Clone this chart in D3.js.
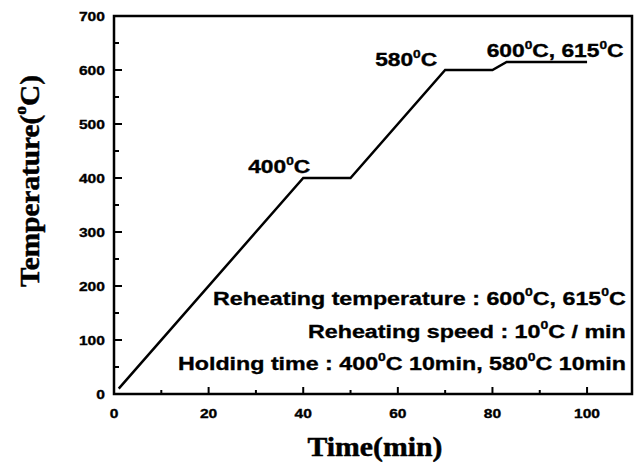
<!DOCTYPE html>
<html><head><meta charset="utf-8">
<script src="https://cdn.jsdelivr.net/npm/d3@7"></script>
<style>body{margin:0;background:#fff}svg{display:block}</style>
</head><body>
<svg id="c" width="638" height="464"></svg>
<script>
// Data
const timeMin = [1, 40, 50, 70, 80, 83, 100];
const tempC   = [10, 400, 400, 600, 600, 615, 615];
const xTicks = [0, 20, 40, 60, 80, 100];
const yTicks = [0, 100, 200, 300, 400, 500, 600, 700];
const stepLabels = [
  {t: 40, v: 400, parts: [["400"],["0",1],["C"]]},
  {t: 70, v: 600, parts: [["580"],["0",1],["C"]]},
  {t: 83, v: 615, parts: [["600"],["0",1],["C, 615"],["0",1],["C"]]}
];
const notes = [
  [["Reheating temperature : 600"],["0",1],["C, 615"],["0",1],["C"]],
  [["Reheating speed : 10"],["0",1],["C / min"]],
  [["Holding time : 400"],["0",1],["C 10min, 580"],["0",1],["C 10min"]]
];

const svg = d3.select("#c");
const L = 114, R = 632, T = 16, B = 394;
const x = d3.scaleLinear().domain([0, 109.5]).range([L, R]);
const y = d3.scaleLinear().domain([0, 700]).range([B, T]);
const SANS = "Liberation Sans, Arial, sans-serif";
const SERIF = "Liberation Serif, Times New Roman, serif";

// frame
svg.append("rect").attr("x", L).attr("y", T).attr("width", R - L).attr("height", B - T)
  .attr("fill", "none").attr("stroke", "#000").attr("stroke-width", 2.5);

// ticks (inward)
const xMinor = d3.range(10, 110, 20);
const yMinor = d3.range(50, 700, 100);
const tk = svg.append("g").attr("stroke", "#000").attr("stroke-width", 2);
xTicks.forEach(v => tk.append("line").attr("x1", x(v)).attr("x2", x(v)).attr("y1", B).attr("y2", B - 7));
xMinor.forEach(v => tk.append("line").attr("x1", x(v)).attr("x2", x(v)).attr("y1", B).attr("y2", B - 4));
yTicks.forEach(v => tk.append("line").attr("y1", y(v)).attr("y2", y(v)).attr("x1", L).attr("x2", L + 8));
yMinor.forEach(v => tk.append("line").attr("y1", y(v)).attr("y2", y(v)).attr("x1", L).attr("x2", L + 5));

// helper: text with superscripts; horizontally scaled by sx, or fit to width fitW
function rich(parent, parts, size, family, anchorX, baseY, anchor, sx, fitW, stroke) {
  const g = parent.append("g");
  const t = g.append("text").attr("font-family", family).attr("font-weight", "bold")
    .attr("font-size", size).attr("fill", "#000")
    .attr("stroke", "#000").attr("stroke-width", stroke || 0.35);
  let sup = false;
  parts.forEach(p => {
    const s = t.append("tspan").text(p[0]);
    if (p[1] && !sup) { s.attr("font-size", size * 0.6).attr("dy", -size * 0.45); sup = true; }
    else if (!p[1] && sup) { s.attr("dy", size * 0.45); sup = false; }
  });
  const nat = t.node().getComputedTextLength();
  if (fitW) sx = fitW / nat;
  const w = nat * sx;
  const x0 = anchor === "end" ? anchorX - w : anchor === "middle" ? anchorX - w / 2 : anchorX;
  g.attr("transform", `translate(${x0},${baseY}) scale(${sx},1)`);
  return g;
}

// tick labels
xTicks.forEach(v => rich(svg, [[String(v)]], 13, SANS, x(v), 418, "middle", 1.2));
yTicks.forEach(v => rich(svg, [[String(v)]], 13, SANS, 105, y(v) + 5, "end", 1.2));

// line
svg.append("path").datum(d3.zip(timeMin, tempC))
  .attr("fill", "none").attr("stroke", "#000").attr("stroke-width", 2.5)
  .attr("stroke-linejoin", "miter")
  .attr("d", d3.line().x(d => x(d[0])).y(d => y(d[1])));

// step labels
rich(svg, stepLabels[0].parts, 18, SANS, x(stepLabels[0].t) + 7, y(stepLabels[0].v) - 5, "end", 1, 62);
rich(svg, stepLabels[1].parts, 18, SANS, x(stepLabels[1].t) - 8, y(stepLabels[1].v) - 4, "end", 1, 62);
rich(svg, stepLabels[2].parts, 18, SANS, x(stepLabels[2].t) - 20, y(stepLabels[2].v) - 5, "start", 1, 137);

// notes
const noteY = [305, 338, 370];
const noteW = [413, 318, 448];
notes.forEach((n, i) => rich(svg, n, 19, SANS, 626, noteY[i], "end", 1, noteW[i]));

// axis titles
rich(svg, [["Time(min)"]], 27, SERIF, 375, 456, "middle", 1, 135, 0.5);
const yt = svg.append("g").attr("transform", "translate(39,181) rotate(-90)");
rich(yt, [["Temperature("], ["o", 1], ["C)"]], 28, SERIF, 0, 0, "middle", 1, 212, 0.5);
</script>
</body></html>
